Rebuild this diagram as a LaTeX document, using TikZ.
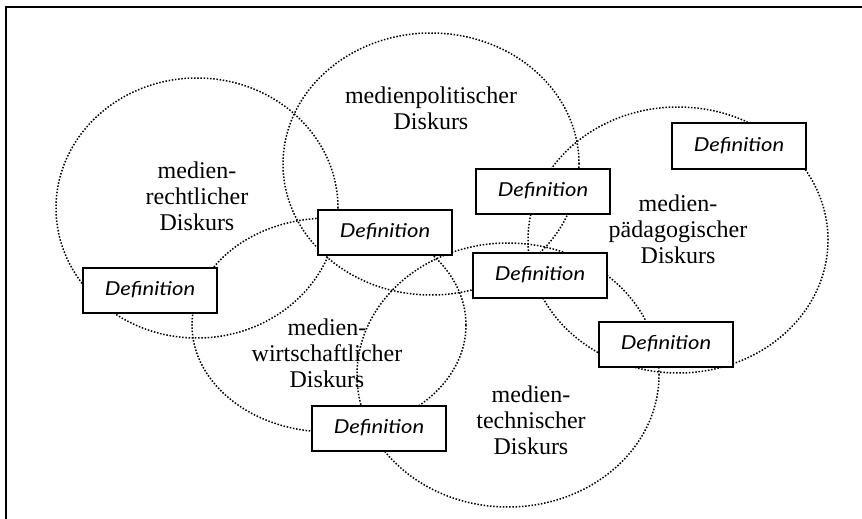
\documentclass[tikz,border=0pt]{standalone}
\usepackage{fontspec}
\setmainfont{Liberation Serif}
\newfontfamily\deffont[FakeStretch=1.15]{Lato}
\usetikzlibrary{shapes.geometric}

\begin{document}
\begin{tikzpicture}[x=0.5pt,y=-0.5pt,
  disc/.style={ellipse,draw,line width=0.75pt,dash pattern=on 0.75pt off 0.85pt,inner sep=0pt},
  disc text/.style={align=center,font=\fontsize{12}{13}\selectfont},
  def node/.style={rectangle,draw,fill=white,line width=1pt,minimum width=67pt,
    minimum height=22.5pt,inner sep=0pt,font=\deffont\itshape\fontsize{9.6}{11}\selectfont}]

  \useasboundingbox (0,0) rectangle (862,519);
  \draw[line width=1pt] (6,519) -- (6,7) -- (862,7);

  % the five discourses
  \node[disc,minimum width=141pt,minimum height=130pt] (recht) at (197,208) {};
  \node[disc,minimum width=148pt,minimum height=131pt] (politik) at (431,164) {};
  \node[disc,minimum width=150pt,minimum height=133pt] (paed) at (678,240) {};
  \node[disc,minimum width=137pt,minimum height=107pt] (wirt) at (329,325) {};
  \node[disc,minimum width=151pt,minimum height=132pt] (tech) at (508,375) {};

  \node[disc text] (recht text) at (197,196) {medien-\\rechtlicher\\Diskurs};
  \node[disc text] (politik text) at (431,108) {medienpolitischer\\Diskurs};
  \node[disc text] (paed text) at (678,229) {medien-\\pädagogischer\\Diskurs};
  \node[disc text] (wirt text) at (327,353) {medien-\\wirtschaftlicher\\Diskurs};
  \node[disc text] (tech text) at (531,420) {medien-\\technischer\\Diskurs};

  % definitions
  \node[def node] (d1) at (150,290) {Definition};
  \node[def node] (d2) at (385,232) {Definition};
  \node[def node] (d3) at (543,191) {Definition};
  \node[def node] (d4) at (739,146) {Definition};
  \node[def node] (d5) at (540,275) {Definition};
  \node[def node] (d6) at (666,344) {Definition};
  \node[def node] (d7) at (379,428) {Definition};

\end{tikzpicture}
\end{document}
